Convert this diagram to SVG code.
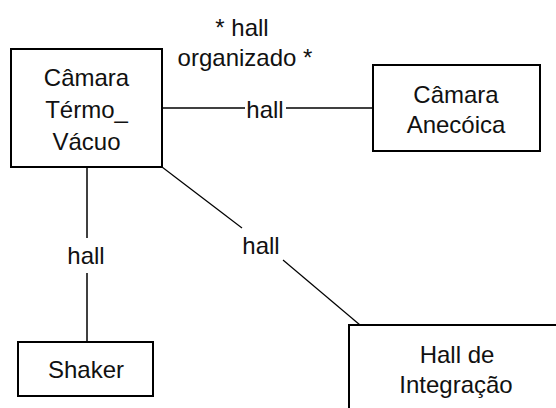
<svg xmlns="http://www.w3.org/2000/svg" width="556" height="408" viewBox="0 0 556 408">
<style>
.box{fill:#fff;stroke:#000;stroke-width:2}
.ln{stroke:#000;stroke-width:1.5;fill:none}
.dg{stroke:#000;stroke-width:1.2;fill:none}
text{font-family:"Liberation Sans",Arial,sans-serif;font-size:24px;fill:#111;text-anchor:middle}
</style>
<rect width="556" height="408" fill="#fff"/>
<g id="connectors">
<line class="ln" x1="162" y1="108" x2="245" y2="108"/>
<line class="ln" x1="286" y1="108" x2="373" y2="108"/>
<text x="265" y="118">hall</text>
<text x="242" y="36">* hall</text>
<text x="245" y="66">organizado *</text>
<line class="ln" x1="87" y1="167" x2="87" y2="238"/>
<line class="ln" x1="87" y1="273" x2="87" y2="342"/>
<text x="86" y="264">hall</text>
<line class="dg" x1="162" y1="167" x2="242" y2="228"/>
<line class="dg" x1="283" y1="260" x2="360" y2="325"/>
<text x="261" y="254">hall</text>
</g>
<g id="camara-termo-vacuo">
<rect class="box" x="11" y="49" width="151" height="118"/>
<text x="86.5" y="86">Câmara</text>
<text x="86.5" y="118">Térmo_</text>
<text x="86.5" y="150">Vácuo</text>
</g>
<g id="camara-anecoica">
<rect class="box" x="373" y="65" width="167" height="86"/>
<text x="456" y="103">Câmara</text>
<text x="456" y="133">Anecóica</text>
</g>
<g id="shaker">
<rect class="box" x="18" y="342" width="135" height="54"/>
<text x="86" y="378">Shaker</text>
</g>
<g id="hall-integracao">
<rect class="box" x="349" y="325" width="220" height="100"/>
<text x="457" y="363">Hall de</text>
<text x="456" y="393">Integração</text>
</g>
</svg>
